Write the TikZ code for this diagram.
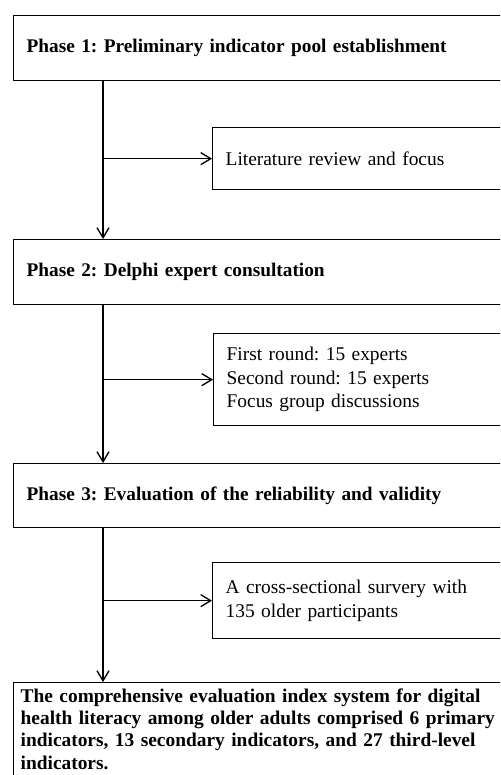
\documentclass[tikz,border=0pt]{standalone}
\usepackage{fontspec}
\setmainfont{Liberation Serif}
\usepackage{tikz}
\usetikzlibrary{arrows.meta,positioning,calc}
\frenchspacing

\begin{document}
\begin{tikzpicture}[x=1pt,y=1pt,
  phase/.style={draw,line width=1.3pt,anchor=north west,text width=480pt,align=left,
    inner xsep=13pt,font=\fontsize{19.3}{23}\selectfont\bfseries},
  method/.style={draw,line width=1.3pt,anchor=north west,text width=300pt,align=left,
    inner xsep=13pt,font=\fontsize{19.4}{23.4}\selectfont},
  result/.style={draw,line width=1.3pt,anchor=north west,text width=500pt,align=left,
    inner xsep=7pt,inner ysep=6pt,font=\fontsize{19.4}{22.3}\selectfont\bfseries},
  to/.style={-{Straight Barb[length=10pt,width=12pt]},line width=1.3pt},
  sub/.style={to}]

    \useasboundingbox (0,0) rectangle (500,-775);
    \clip (0,0) rectangle (500,-775);

    % phases
    \node[phase,minimum height=65pt](phase1) at (13,-15) {Phase 1: Preliminary indicator pool establishment};
    \node[phase,minimum height=65pt](phase2) at (13,-239) {Phase 2: Delphi expert consultation};
    \node[phase,minimum height=64pt](phase3) at (13,-463) {Phase 3: Evaluation of the reliability and validity};
    \node[result](final) at (13,-682) {The comprehensive evaluation index system for digital\\
      health literacy among older adults comprised 6 primary\\
      indicators, 13 secondary indicators, and 27 third-level\\
      indicators.};

    % side steps
    \node[method,minimum height=62pt](lit) at (212,-127) {Literature review and focus};
    \node[method,minimum height=92pt](experts) at (213,-333) {First round: 15 experts\\
      Second round: 15 experts\\
      Focus group discussions};
    \node[method,minimum height=76pt](survey) at (212,-562) {A cross-sectional survery with\\
      135 older participants};

    \coordinate (s1) at ($(phase1.south west)+(90,0)$);
    \coordinate (s2) at ($(phase2.south west)+(90,0)$);
    \coordinate (s3) at ($(phase3.south west)+(90,0)$);

    \draw[to](s1) -- (s1 |- phase2.north);
    \draw[to](s2) -- (s2 |- phase3.north);
    \draw[to](s3) -- (s3 |- final.north);

    \draw[sub](s1 |- lit.west) -- (lit.west);
    \draw[sub](s2 |- experts.west) -- (experts.west);
    \draw[sub](s3 |- survey.west) -- (survey.west);
\end{tikzpicture}
\end{document}
